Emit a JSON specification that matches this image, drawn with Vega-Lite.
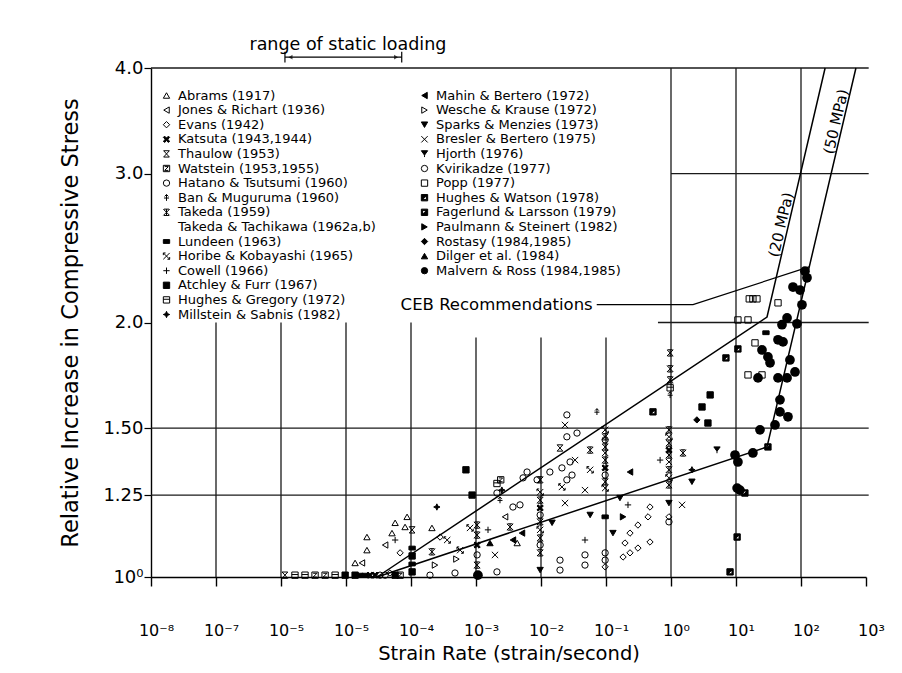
{
"$schema":"https://vega.github.io/schema/vega-lite/v6.json",
"width":715,"height":509,
"autosize":{"type":"none"},
"padding":{"left":151,"top":68,"right":36,"bottom":96},
"background":"white",
"config":{"font":"DejaVu Sans","view":{"stroke":null},"text":{"color":"black","font":"DejaVu Sans"}},
"datasets":{
"vgrid":[{"rate":1e-7,"ratio":1,"ratio2":2.0},{"rate":1e-6,"ratio":1,"ratio2":2.0},{"rate":1e-5,"ratio":1,"ratio2":2.0},{"rate":1e-4,"ratio":1,"ratio2":2.0},{"rate":0.001,"ratio":1,"ratio2":1.92},{"rate":0.01,"ratio":1,"ratio2":1.92},{"rate":0.1,"ratio":1,"ratio2":1.92},{"rate":1,"ratio":1,"ratio2":4},{"rate":10,"ratio":1,"ratio2":4},{"rate":100,"ratio":1,"ratio2":4}],
"majorticks":[{"rate":1e-8},{"rate":1e-7},{"rate":1e-6},{"rate":1e-5},{"rate":1e-4},{"rate":0.001},{"rate":0.01},{"rate":0.1},{"rate":1},{"rate":10},{"rate":100},{"rate":1000}],
"minorticks":[{"rate":2e-8},{"rate":3e-8},{"rate":4e-8},{"rate":5e-8},{"rate":6e-8},{"rate":7e-8},{"rate":8e-8},{"rate":9e-8},{"rate":2e-7},{"rate":3e-7},{"rate":4e-7},{"rate":5e-7},{"rate":6e-7},{"rate":7e-7},{"rate":8e-7},{"rate":9e-7},{"rate":2e-6},{"rate":3e-6},{"rate":4e-6},{"rate":5e-6},{"rate":6e-6},{"rate":7e-6},{"rate":8e-6},{"rate":9e-6},{"rate":2e-5},{"rate":3e-5},{"rate":4e-5},{"rate":5e-5},{"rate":6e-5},{"rate":7e-5},{"rate":8e-5},{"rate":9e-5},{"rate":2e-4},{"rate":3e-4},{"rate":4e-4},{"rate":5e-4},{"rate":6e-4},{"rate":7e-4},{"rate":8e-4},{"rate":9e-4},{"rate":0.002},{"rate":0.003},{"rate":0.004},{"rate":0.005},{"rate":0.006},{"rate":0.007},{"rate":0.008},{"rate":0.009},{"rate":0.02},{"rate":0.03},{"rate":0.04},{"rate":0.05},{"rate":0.06},{"rate":0.07},{"rate":0.08},{"rate":0.09},{"rate":0.2},{"rate":0.3},{"rate":0.4},{"rate":0.5},{"rate":0.6},{"rate":0.7},{"rate":0.8},{"rate":0.9},{"rate":2},{"rate":3},{"rate":4},{"rate":5},{"rate":6},{"rate":7},{"rate":8},{"rate":9},{"rate":20},{"rate":30},{"rate":40},{"rate":50},{"rate":60},{"rate":70},{"rate":80},{"rate":90},{"rate":200},{"rate":300},{"rate":400},{"rate":500},{"rate":600},{"rate":700},{"rate":800},{"rate":900}],
"hgrid":[{"rate":1e-8,"rate2":1100,"ratio":1.25},{"rate":1e-8,"rate2":1100,"ratio":1.5},{"rate":0.63,"rate2":1100,"ratio":2.0},{"rate":1,"rate2":1100,"ratio":3.0},{"rate":1e-8,"rate2":1100,"ratio":4.0}],
"ceb":[{"series":"20 MPa","rate":3e-5,"ratio":1},{"series":"20 MPa","rate":30,"ratio":2.03},{"series":"20 MPa","rate":235,"ratio":4},{"series":"50 MPa","rate":3e-5,"ratio":1},{"series":"50 MPa","rate":30,"ratio":1.425},{"series":"50 MPa","rate":700,"ratio":4}],
"pointer":[{"rate":0.072,"ratio":2.1},{"rate":2.18,"ratio":2.1},{"rate":133,"ratio":2.327}],
"left":[
{"study":"Abrams (1917)","rate":2.1e-5,"ratio":1.115},{"study":"Abrams (1917)","rate":2.1e-5,"ratio":1.076},{"study":"Abrams (1917)","rate":1.38e-5,"ratio":1.039},{"study":"Abrams (1917)","rate":5.7e-5,"ratio":1.159},{"study":"Abrams (1917)","rate":5.1e-5,"ratio":1.127},{"study":"Abrams (1917)","rate":8.7e-5,"ratio":1.178},{"study":"Abrams (1917)","rate":8.1e-5,"ratio":1.146},{"study":"Abrams (1917)","rate":2.1e-4,"ratio":1.143},{"study":"Abrams (1917)","rate":4.3e-3,"ratio":1.097},
{"study":"Jones & Richart (1936)","rate":1.76e-5,"ratio":1.039},{"study":"Jones & Richart (1936)","rate":4.0e-5,"ratio":1.091},{"study":"Jones & Richart (1936)","rate":2.8e-3,"ratio":1.178},
{"study":"Evans (1942)","rate":4.75e-5,"ratio":1.011},{"study":"Evans (1942)","rate":6.8e-5,"ratio":1.068},{"study":"Evans (1942)","rate":2.8e-4,"ratio":1.115},{"study":"Evans (1942)","rate":0.475,"ratio":1.21},{"study":"Evans (1942)","rate":0.443,"ratio":1.178},{"study":"Evans (1942)","rate":0.31,"ratio":1.152},{"study":"Evans (1942)","rate":0.234,"ratio":1.127},{"study":"Evans (1942)","rate":0.196,"ratio":1.097},{"study":"Evans (1942)","rate":0.234,"ratio":1.068},{"study":"Evans (1942)","rate":0.31,"ratio":1.082},{"study":"Evans (1942)","rate":0.475,"ratio":1.1},{"study":"Evans (1942)","rate":0.183,"ratio":1.056},{"study":"Evans (1942)","rate":0.097,"ratio":1.028},{"study":"Evans (1942)","rate":0.93,"ratio":1.178},
{"study":"Katsuta (1943,1944)","rate":2.34e-5,"ratio":1.005},{"study":"Katsuta (1943,1944)","rate":2.8e-5,"ratio":1.005},{"study":"Katsuta (1943,1944)","rate":1.04e-3,"ratio":1.091},{"study":"Katsuta (1943,1944)","rate":9.7e-3,"ratio":1.207},{"study":"Katsuta (1943,1944)","rate":0.097,"ratio":1.346},{"study":"Katsuta (1943,1944)","rate":0.93,"ratio":1.413},
{"study":"Thaulow (1953)","rate":1.15e-6,"ratio":1.005},{"study":"Thaulow (1953)","rate":1.04e-4,"ratio":1.137},{"study":"Thaulow (1953)","rate":1.96e-2,"ratio":1.421},
{"study":"Watstein (1953,1955)","rate":3.34e-6,"ratio":1.005},{"study":"Watstein (1953,1955)","rate":4.77e-6,"ratio":1.005},{"study":"Watstein (1953,1955)","rate":6.8e-5,"ratio":1.005},{"study":"Watstein (1953,1955)","rate":2.4e-3,"ratio":1.303},
{"study":"Hatano & Tsutsumi (1960)","rate":3.34e-5,"ratio":1.005},{"study":"Hatano & Tsutsumi (1960)","rate":1.96e-4,"ratio":1.005},{"study":"Hatano & Tsutsumi (1960)","rate":1.04e-3,"ratio":1.062},{"study":"Hatano & Tsutsumi (1960)","rate":3.7e-3,"ratio":1.21},{"study":"Hatano & Tsutsumi (1960)","rate":9.7e-3,"ratio":1.184},{"study":"Hatano & Tsutsumi (1960)","rate":3.58e-2,"ratio":1.48},{"study":"Hatano & Tsutsumi (1960)","rate":1.96e-2,"ratio":1.047},{"study":"Hatano & Tsutsumi (1960)","rate":1.96e-2,"ratio":1.019},{"study":"Hatano & Tsutsumi (1960)","rate":4.75e-2,"ratio":1.062},{"study":"Hatano & Tsutsumi (1960)","rate":4.75e-2,"ratio":1.033},{"study":"Hatano & Tsutsumi (1960)","rate":0.097,"ratio":1.32},{"study":"Hatano & Tsutsumi (1960)","rate":0.097,"ratio":1.068},{"study":"Hatano & Tsutsumi (1960)","rate":0.097,"ratio":1.047},{"study":"Hatano & Tsutsumi (1960)","rate":0.93,"ratio":1.162},
{"study":"Ban & Muguruma (1960)","rate":2.34e-3,"ratio":1.233},{"study":"Ban & Muguruma (1960)","rate":7.25e-2,"ratio":1.568},{"study":"Ban & Muguruma (1960)","rate":0.97,"ratio":1.642},
{"study":"Takeda (1959)","rate":2.1e-4,"ratio":1.071},{"study":"Takeda (1959)","rate":1.04e-3,"ratio":1.152},{"study":"Takeda (1959)","rate":1.04e-3,"ratio":1.121},{"study":"Takeda (1959)","rate":1.04e-3,"ratio":1.033},{"study":"Takeda (1959)","rate":3.34e-3,"ratio":1.146},{"study":"Takeda (1959)","rate":9.7e-3,"ratio":1.303},{"study":"Takeda (1959)","rate":9.7e-3,"ratio":1.233},{"study":"Takeda (1959)","rate":9.7e-3,"ratio":1.162},{"study":"Takeda (1959)","rate":9.7e-3,"ratio":1.112},{"study":"Takeda (1959)","rate":9.7e-3,"ratio":1.068},{"study":"Takeda (1959)","rate":5.7e-2,"ratio":1.413},{"study":"Takeda (1959)","rate":0.097,"ratio":1.465},{"study":"Takeda (1959)","rate":0.097,"ratio":1.425},{"study":"Takeda (1959)","rate":0.097,"ratio":1.375},{"study":"Takeda (1959)","rate":0.097,"ratio":1.296},{"study":"Takeda (1959)","rate":0.97,"ratio":1.841},{"study":"Takeda (1959)","rate":0.97,"ratio":1.763},{"study":"Takeda (1959)","rate":0.97,"ratio":1.711},{"study":"Takeda (1959)","rate":0.93,"ratio":1.493},{"study":"Takeda (1959)","rate":0.93,"ratio":1.44},{"study":"Takeda (1959)","rate":0.93,"ratio":1.394},{"study":"Takeda (1959)","rate":0.93,"ratio":1.339},{"study":"Takeda (1959)","rate":0.93,"ratio":1.285},{"study":"Takeda (1959)","rate":1.53,"ratio":1.402},
{"study":"Lundeen (1963)","rate":1.64e-5,"ratio":1.005},{"study":"Lundeen (1963)","rate":1.96e-5,"ratio":1.005},{"study":"Lundeen (1963)","rate":1.04e-4,"ratio":1.082},{"study":"Lundeen (1963)","rate":1.04e-4,"ratio":1.036},{"study":"Lundeen (1963)","rate":0.097,"ratio":1.178},{"study":"Lundeen (1963)","rate":28.9,"ratio":1.945},
{"study":"Horibe & Kobayashi (1965)","rate":3.6e-4,"ratio":1.106},{"study":"Horibe & Kobayashi (1965)","rate":5.7e-4,"ratio":1.076},{"study":"Horibe & Kobayashi (1965)","rate":8.1e-4,"ratio":1.143},{"study":"Horibe & Kobayashi (1965)","rate":2.1e-2,"ratio":1.278},{"study":"Horibe & Kobayashi (1965)","rate":9.7e-3,"ratio":1.26},{"study":"Horibe & Kobayashi (1965)","rate":9.7e-3,"ratio":1.137},{"study":"Horibe & Kobayashi (1965)","rate":5.7e-2,"ratio":1.339},{"study":"Horibe & Kobayashi (1965)","rate":0.097,"ratio":1.493},{"study":"Horibe & Kobayashi (1965)","rate":0.097,"ratio":1.274},{"study":"Horibe & Kobayashi (1965)","rate":0.93,"ratio":1.465},{"study":"Horibe & Kobayashi (1965)","rate":0.93,"ratio":1.31},
{"study":"Cowell (1966)","rate":5.7e-5,"ratio":1.106},{"study":"Cowell (1966)","rate":1.53e-3,"ratio":1.137},{"study":"Cowell (1966)","rate":4.75e-2,"ratio":1.106},{"study":"Cowell (1966)","rate":0.68,"ratio":1.375},{"study":"Cowell (1966)","rate":0.218,"ratio":1.217},
{"study":"Atchley & Furr (1967)","rate":9.7e-6,"ratio":1.005},{"study":"Atchley & Furr (1967)","rate":1.38e-5,"ratio":1.005},{"study":"Atchley & Furr (1967)","rate":5.7e-5,"ratio":1.005},{"study":"Atchley & Furr (1967)","rate":1.04e-4,"ratio":1.059},{"study":"Atchley & Furr (1967)","rate":1.04e-4,"ratio":1.014},{"study":"Atchley & Furr (1967)","rate":7.0e-4,"ratio":1.339},{"study":"Atchley & Furr (1967)","rate":8.7e-4,"ratio":1.25},{"study":"Atchley & Furr (1967)","rate":4.0,"ratio":1.642},{"study":"Atchley & Furr (1967)","rate":3.0,"ratio":1.589},{"study":"Atchley & Furr (1967)","rate":3.7,"ratio":1.521},
{"study":"Hughes & Gregory (1972)","rate":1.64e-6,"ratio":1.005},{"study":"Hughes & Gregory (1972)","rate":2.34e-6,"ratio":1.005},{"study":"Hughes & Gregory (1972)","rate":6.8e-6,"ratio":1.005},{"study":"Hughes & Gregory (1972)","rate":2.1e-3,"ratio":1.29},{"study":"Hughes & Gregory (1972)","rate":0.97,"ratio":1.674},
{"study":"Millstein & Sabnis (1982)","rate":2.5e-4,"ratio":1.21},{"study":"Millstein & Sabnis (1982)","rate":2.5e-3,"ratio":1.267},{"study":"Millstein & Sabnis (1982)","rate":2.1,"ratio":1.339}
],
"right":[
{"study":"Mahin & Bertero (1972)","rate":3.7e-3,"ratio":1.106},{"study":"Mahin & Bertero (1972)","rate":5.1e-3,"ratio":1.127},{"study":"Mahin & Bertero (1972)","rate":0.234,"ratio":1.331},
{"study":"Wesche & Krause (1972)","rate":2.34e-4,"ratio":1.033},{"study":"Wesche & Krause (1972)","rate":5.0e-4,"ratio":1.05},
{"study":"Sparks & Menzies (1973)","rate":9.7e-3,"ratio":1.019},{"study":"Sparks & Menzies (1973)","rate":1.48e-2,"ratio":1.159},{"study":"Sparks & Menzies (1973)","rate":5.7e-2,"ratio":1.184},{"study":"Sparks & Menzies (1973)","rate":0.164,"ratio":1.24},{"study":"Sparks & Menzies (1973)","rate":0.128,"ratio":1.127},{"study":"Sparks & Menzies (1973)","rate":0.93,"ratio":1.223},{"study":"Sparks & Menzies (1973)","rate":2.1,"ratio":1.296},
{"study":"Bresler & Bertero (1975)","rate":1.96e-3,"ratio":1.062},{"study":"Bresler & Bertero (1975)","rate":2.34e-2,"ratio":1.513},{"study":"Bresler & Bertero (1975)","rate":2.34e-2,"ratio":1.223},{"study":"Bresler & Bertero (1975)","rate":0.097,"ratio":1.402},{"study":"Bresler & Bertero (1975)","rate":3.34e-2,"ratio":1.375},{"study":"Bresler & Bertero (1975)","rate":4.75e-2,"ratio":1.267},{"study":"Bresler & Bertero (1975)","rate":0.93,"ratio":1.368},{"study":"Bresler & Bertero (1975)","rate":1.48,"ratio":1.217},
{"study":"Hjorth (1976)","rate":5.1,"ratio":1.413},
{"study":"Kvirikadze (1977)","rate":4.0e-5,"ratio":1.005},{"study":"Kvirikadze (1977)","rate":4.75e-4,"ratio":1.011},{"study":"Kvirikadze (1977)","rate":2.1e-3,"ratio":1.257},{"study":"Kvirikadze (1977)","rate":2.1e-3,"ratio":1.014},{"study":"Kvirikadze (1977)","rate":6.1e-3,"ratio":1.331},{"study":"Kvirikadze (1977)","rate":5.3e-3,"ratio":1.31},{"study":"Kvirikadze (1977)","rate":8.7e-3,"ratio":1.303},{"study":"Kvirikadze (1977)","rate":1.37e-2,"ratio":1.331},{"study":"Kvirikadze (1977)","rate":2.1e-2,"ratio":1.346},{"study":"Kvirikadze (1977)","rate":2.8e-2,"ratio":1.368},{"study":"Kvirikadze (1977)","rate":3.0e-2,"ratio":1.32},{"study":"Kvirikadze (1977)","rate":2.5e-2,"ratio":1.555},{"study":"Kvirikadze (1977)","rate":2.5e-2,"ratio":1.465},{"study":"Kvirikadze (1977)","rate":4.75e-3,"ratio":1.217},{"study":"Kvirikadze (1977)","rate":9.7e-3,"ratio":1.091},{"study":"Kvirikadze (1977)","rate":0.097,"ratio":1.453},{"study":"Kvirikadze (1977)","rate":2.5e-2,"ratio":1.303},
{"study":"Popp (1977)","rate":16,"ratio":2.133},{"study":"Popp (1977)","rate":18.2,"ratio":2.133},{"study":"Popp (1977)","rate":21,"ratio":2.133},{"study":"Popp (1977)","rate":44.3,"ratio":2.11},{"study":"Popp (1977)","rate":10.7,"ratio":2.014},{"study":"Popp (1977)","rate":15.3,"ratio":2.014},{"study":"Popp (1977)","rate":19.6,"ratio":1.892},{"study":"Popp (1977)","rate":15.3,"ratio":1.734},{"study":"Popp (1977)","rate":25.1,"ratio":1.734},
{"study":"Hughes & Watson (1978)","rate":0.528,"ratio":1.568},{"study":"Hughes & Watson (1978)","rate":7.0,"ratio":1.816},{"study":"Hughes & Watson (1978)","rate":10.7,"ratio":1.861},{"study":"Hughes & Watson (1978)","rate":10.4,"ratio":1.115},{"study":"Hughes & Watson (1978)","rate":8.1,"ratio":1.014},
{"study":"Fagerlund & Larsson (1979)","rate":31,"ratio":1.425},{"study":"Fagerlund & Larsson (1979)","rate":13.7,"ratio":1.257},
{"study":"Paulmann & Steinert (1982)","rate":0.183,"ratio":1.178},
{"study":"Rostasy (1984,1985)","rate":2.5,"ratio":1.534},
{"study":"Dilger et al. (1984)","rate":1.64e-3,"ratio":1.097}
],
"malvern":[
{"rate":123.6,"ratio":2.259},{"rate":115,"ratio":2.3},{"rate":75.3,"ratio":2.203},{"rate":96.5,"ratio":2.185},{"rate":103.5,"ratio":2.099},{"rate":61,"ratio":2.025},{"rate":51,"ratio":1.988},{"rate":86.7,"ratio":1.993},{"rate":44.3,"ratio":1.908},{"rate":52.9,"ratio":1.897},{"rate":25.1,"ratio":1.856},{"rate":31,"ratio":1.821},{"rate":33.4,"ratio":1.792},{"rate":67.6,"ratio":1.806},{"rate":21.8,"ratio":1.72},{"rate":44.3,"ratio":1.72},{"rate":61,"ratio":1.72},{"rate":80.9,"ratio":1.748},{"rate":47.5,"ratio":1.62},{"rate":47.5,"ratio":1.568},{"rate":63,"ratio":1.547},{"rate":39.8,"ratio":1.513},{"rate":23.4,"ratio":1.493},{"rate":18.2,"ratio":1.402},{"rate":9.66,"ratio":1.394},{"rate":10.7,"ratio":1.368},{"rate":10.4,"ratio":1.274},{"rate":11.5,"ratio":1.267},{"rate":1.07e-3,"ratio":1.005}
]
},
"encoding":{
 "x":{"field":"rate","type":"quantitative","scale":{"type":"log","domain":[1e-8,1000],"nice":false},
  "axis":{"values":[1e-8,1e-7,1e-6,1e-5,1e-4,0.001,0.01,0.1,1,10,100,1000],
   "labelExpr":"['10⁻⁸','10⁻⁷','10⁻⁵','10⁻⁵','10⁻⁴','10⁻³','10⁻²','10⁻¹','10⁰','10¹','10²','10³'][round(log(datum.value)/LN10)+8]",
   "ticks":true,"tickSize":9,"tickColor":"black","tickWidth":1.4,"domainColor":"black","domainWidth":1.4,"grid":false,
   "labelFont":"DejaVu Sans","labelFontSize":16,"labelColor":"black","labelPadding":36,"labelOffset":5,"labelFlush":false,"labelOverlap":false,"labelBound":false,
   "title":"Strain Rate (strain/second)","titleFont":"DejaVu Sans","titleFontSize":19.5,"titleFontWeight":"normal","titleColor":"black","titlePadding":6}},
 "y":{"field":"ratio","type":"quantitative","scale":{"type":"log","domain":[1,4],"nice":false},
  "axis":{"values":[1,1.25,1.5,2,3,4],
   "labelExpr":"datum.value == 1 ? '10⁰' : datum.value == 1.25 ? '1.25' : datum.value == 1.5 ? '1.50' : format(datum.value, '.1f')",
   "tickSize":7,"tickColor":"black","tickWidth":1.2,"domainColor":"black","domainWidth":1.4,"grid":false,
   "labelFont":"DejaVu Sans","labelFontSize":18,"labelColor":"black","labelPadding":1,"labelFlush":false,"labelOverlap":false,"labelBound":false,
   "title":"Relative Increase in Compressive Stress","titleFont":"DejaVu Sans","titleFontSize":22.5,"titleFontWeight":"normal","titleColor":"black","titlePadding":20}}
},
"layer":[
{"data":{"name":"vgrid"},"mark":{"type":"rule","color":"#1a1a1a","strokeWidth":1.3},"encoding":{"y2":{"field":"ratio2"}}},
{"data":{"name":"majorticks"},"mark":{"type":"tick","orient":"vertical","color":"black","thickness":1.5,"size":10,"yOffset":5,"opacity":1},"encoding":{"y":{"datum":1}}},
{"data":{"name":"minorticks"},"mark":{"type":"tick","orient":"vertical","color":"black","thickness":1,"size":5,"yOffset":2.5,"opacity":1},"encoding":{"y":{"datum":1}}},
{"data":{"name":"hgrid"},"mark":{"type":"rule","color":"#1a1a1a","strokeWidth":1.3},"encoding":{"x2":{"field":"rate2"}}},
{"data":{"name":"ceb"},"mark":{"type":"line","color":"black","strokeWidth":1.5},"encoding":{"detail":{"field":"series","type":"nominal"}}},
{"data":{"name":"pointer"},"mark":{"type":"line","color":"black","strokeWidth":1.2},"encoding":{}},
{"data":{"values":[{"rate":1.15e-6,"rate2":7.2e-5,"ratio":4.12}]},"mark":{"type":"rule","color":"black","strokeWidth":1.2},"encoding":{"x2":{"field":"rate2"}}},
{"data":{"values":[{"rate":1.15e-6,"ratio":4.06,"ratio2":4.18},{"rate":7.2e-5,"ratio":4.06,"ratio2":4.18}]},"mark":{"type":"rule","color":"black","strokeWidth":1.2},"encoding":{"y2":{"field":"ratio2"}}},
{"data":{"values":[{"rate":1.4e-6,"ratio":4.12}]},"mark":{"type":"point","shape":"triangle-left","filled":true,"color":"black","size":22},"encoding":{}},
{"data":{"values":[{"rate":5.9e-5,"ratio":4.12}]},"mark":{"type":"point","shape":"triangle-right","filled":true,"color":"black","size":22},"encoding":{}},
{"data":{"values":[{"rate":1.07e-5,"ratio":4.26,"label":"range of static loading"}]},"mark":{"type":"text","fontSize":17.5,"align":"center","baseline":"middle","color":"black"},"encoding":{"text":{"field":"label"}}},
{"data":{"values":[{"rate":0.072,"ratio":2.1,"label":"CEB Recommendations"}]},"mark":{"type":"text","fontSize":16.5,"align":"right","baseline":"middle","dx":-4,"color":"black"},"encoding":{"text":{"field":"label"}}},
{"data":{"values":[{"rate":49.2,"ratio":2.61,"label":"(20 MPa)"},{"rate":345,"ratio":3.456,"label":"(50 MPa)"}]},"mark":{"type":"text","fontSize":15,"align":"center","baseline":"middle","angle":-77,"color":"black"},"encoding":{"text":{"field":"label"}}},
{"data":{"name":"left"},"mark":{"type":"point","filled":false,"color":"black","strokeWidth":1,"size":40,"opacity":1},
 "encoding":{
  "shape":{"field":"study","type":"nominal",
   "scale":{"domain":["Abrams (1917)","Jones & Richart (1936)","Evans (1942)","Katsuta (1943,1944)","Thaulow (1953)","Watstein (1953,1955)","Hatano & Tsutsumi (1960)","Ban & Muguruma (1960)","Takeda (1959)","Takeda & Tachikawa (1962a,b)","Lundeen (1963)","Horibe & Kobayashi (1965)","Cowell (1966)","Atchley & Furr (1967)","Hughes & Gregory (1972)","Millstein & Sabnis (1982)"],
    "range":["triangle-up","triangle-left","diamond","M-1,-0.6L-0.6,-1L0,-0.4L0.6,-1L1,-0.6L0.4,0L1,0.6L0.6,1L0,0.4L-0.6,1L-1,0.6L-0.4,0Z","M-0.9,-1L0.9,-1L-0.9,1L0.9,1Z","M-1,-1L1,-1L1,1L-1,1ZM-0.6,-0.6L0.6,-0.6L-0.6,0.6L0.6,0.6","circle","M0,1L0,-1M-0.6,-0.4L0,-1L0.6,-0.4M-0.8,0.1L0.8,0.1","M-1,-1L1,1M1,-1L-1,1M0,-1L0,1M-0.8,-1L0.8,-1M-0.8,1L0.8,1","M0,0","M-1,-0.6L1,-0.6L1,0.6L-1,0.6Z","M-1,-1L1,1M1,-1L-1,1M-1,-0.3L-1,-1L-0.3,-1M0.3,1L1,1L1,0.3","M-1,0L1,0M0,-1L0,1","square","M-1,-1L1,-1L1,1L-1,1ZM-1,-0.2L1,-0.2","M0,-1L0.3,-0.3L1,0L0.3,0.3L0,1L-0.3,0.3L-1,0L-0.3,-0.3Z"]},
   "legend":{"title":null,"orient":"none","legendX":9,"legendY":21,"labelFont":"DejaVu Sans","labelFontSize":13,"labelColor":"black","rowPadding":0.6,"labelOffset":5,"symbolStrokeWidth":1,"symbolSize":40,"labelLimit":400,"padding":0}},
  "fill":{"field":"study","type":"nominal",
   "scale":{"domain":["Abrams (1917)","Jones & Richart (1936)","Evans (1942)","Katsuta (1943,1944)","Thaulow (1953)","Watstein (1953,1955)","Hatano & Tsutsumi (1960)","Ban & Muguruma (1960)","Takeda (1959)","Takeda & Tachikawa (1962a,b)","Lundeen (1963)","Horibe & Kobayashi (1965)","Cowell (1966)","Atchley & Furr (1967)","Hughes & Gregory (1972)","Millstein & Sabnis (1982)"],
    "range":["transparent","transparent","transparent","black","transparent","transparent","transparent","transparent","transparent","transparent","black","transparent","transparent","black","transparent","black"]},
   "legend":{"title":null,"orient":"none","legendX":9,"legendY":21,"labelFont":"DejaVu Sans","labelFontSize":13,"labelColor":"black","rowPadding":0.6,"labelOffset":5,"symbolStrokeWidth":1,"symbolSize":40,"labelLimit":400,"padding":0}},
  "stroke":{"field":"study","type":"nominal",
   "scale":{"domain":["Abrams (1917)","Jones & Richart (1936)","Evans (1942)","Katsuta (1943,1944)","Thaulow (1953)","Watstein (1953,1955)","Hatano & Tsutsumi (1960)","Ban & Muguruma (1960)","Takeda (1959)","Takeda & Tachikawa (1962a,b)","Lundeen (1963)","Horibe & Kobayashi (1965)","Cowell (1966)","Atchley & Furr (1967)","Hughes & Gregory (1972)","Millstein & Sabnis (1982)"],
    "range":["black","black","black","black","black","black","black","black","black","black","black","black","black","black","black","black"]},
   "legend":{"title":null,"orient":"none","legendX":9,"legendY":21,"labelFont":"DejaVu Sans","labelFontSize":13,"labelColor":"black","rowPadding":0.6,"labelOffset":5,"symbolStrokeWidth":1,"symbolSize":40,"labelLimit":400,"padding":0}}}},
{"data":{"name":"right"},"mark":{"type":"point","filled":false,"color":"black","strokeWidth":1,"size":40,"opacity":1},
 "encoding":{
  "shape":{"field":"study","type":"nominal",
   "scale":{"domain":["Mahin & Bertero (1972)","Wesche & Krause (1972)","Sparks & Menzies (1973)","Bresler & Bertero (1975)","Hjorth (1976)","Kvirikadze (1977)","Popp (1977)","Hughes & Watson (1978)","Fagerlund & Larsson (1979)","Paulmann & Steinert (1982)","Rostasy (1984,1985)","Dilger et al. (1984)","Malvern & Ross (1984,1985)"],
    "range":["triangle-left","triangle-right","triangle-down","M-1,-1L1,1M1,-1L-1,1","M-1,-1L1,-1L0,0.4ZM0,0.4L0,1","circle","square","M-1,-1L1,-1L1,1L-1,1ZM-0.6,-0.6L-0.6,0.6L0.6,0.6L0.6,-0.6ZM-0.6,-0.6L0.6,-0.6L-0.6,0.6Z","M-1,-1L1,-1L1,1L-1,1ZM-0.6,-0.6L-0.6,0.6L0.6,0.6L0.6,-0.6ZM0.6,-0.6L0.6,0.6L-0.6,0.6Z","triangle-right","diamond","triangle-up","circle"]},
   "legend":{"title":null,"orient":"none","legendX":267,"legendY":21,"labelFont":"DejaVu Sans","labelFontSize":13,"labelColor":"black","rowPadding":0.6,"labelOffset":5,"symbolStrokeWidth":1,"symbolSize":40,"labelLimit":400,"padding":0}},
  "fill":{"field":"study","type":"nominal",
   "scale":{"domain":["Mahin & Bertero (1972)","Wesche & Krause (1972)","Sparks & Menzies (1973)","Bresler & Bertero (1975)","Hjorth (1976)","Kvirikadze (1977)","Popp (1977)","Hughes & Watson (1978)","Fagerlund & Larsson (1979)","Paulmann & Steinert (1982)","Rostasy (1984,1985)","Dilger et al. (1984)","Malvern & Ross (1984,1985)"],
    "range":["black","transparent","black","transparent","black","transparent","transparent","black","black","black","black","black","black"]},
   "legend":{"title":null,"orient":"none","legendX":267,"legendY":21,"labelFont":"DejaVu Sans","labelFontSize":13,"labelColor":"black","rowPadding":0.6,"labelOffset":5,"symbolStrokeWidth":1,"symbolSize":40,"labelLimit":400,"padding":0}},
  "stroke":{"field":"study","type":"nominal",
   "scale":{"domain":["Mahin & Bertero (1972)","Wesche & Krause (1972)","Sparks & Menzies (1973)","Bresler & Bertero (1975)","Hjorth (1976)","Kvirikadze (1977)","Popp (1977)","Hughes & Watson (1978)","Fagerlund & Larsson (1979)","Paulmann & Steinert (1982)","Rostasy (1984,1985)","Dilger et al. (1984)","Malvern & Ross (1984,1985)"],
    "range":["black","black","black","black","black","black","black","black","black","black","black","black","black"]},
   "legend":{"title":null,"orient":"none","legendX":267,"legendY":21,"labelFont":"DejaVu Sans","labelFontSize":13,"labelColor":"black","rowPadding":0.6,"labelOffset":5,"symbolStrokeWidth":1,"symbolSize":40,"labelLimit":400,"padding":0}}}},
{"data":{"name":"malvern"},"mark":{"type":"point","shape":"circle","filled":true,"color":"black","size":95,"opacity":1},"encoding":{}}
],
"resolve":{"scale":{"shape":"independent","fill":"independent","stroke":"independent"}}
}
